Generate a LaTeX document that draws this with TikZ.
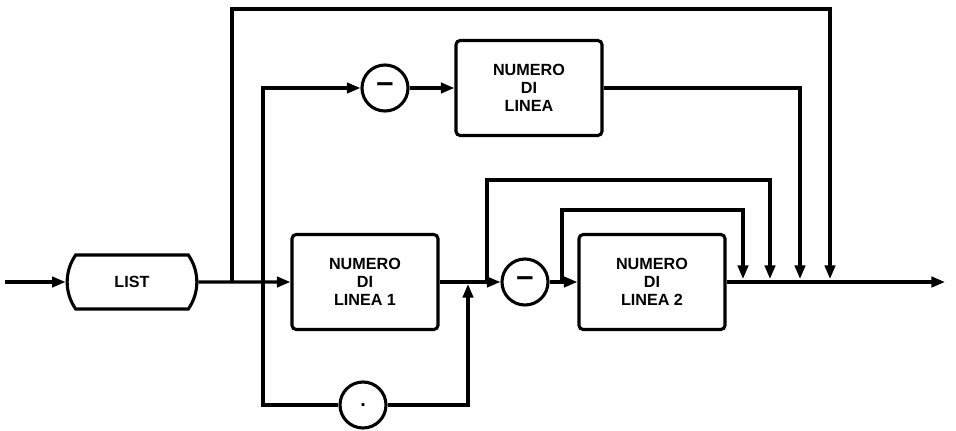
\documentclass[tikz,border=0pt]{standalone}
\usepackage{fontspec}
\setmainfont{Liberation Sans}
\usepackage{tikz}
\usetikzlibrary{arrows.meta,positioning,shapes.misc}

\newcommand\minussign{\raisebox{-0.08em}{\fontsize{22}{22}\selectfont\bfseries\textendash}}

\begin{document}
\begin{tikzpicture}[x=0.025cm,y=-0.025cm,line width=2.2pt,
  >={Triangle[length=0.34cm,width=0.26cm]},
  box/.style={draw,rounded corners=3pt,minimum width=3.65cm,minimum height=2.375cm,
    align=center,inner sep=0pt,font=\fontsize{11.5}{13}\selectfont\bfseries},
  roundel/.style={draw,circle,minimum size=1.15cm,inner sep=0pt},
  listbox/.style={draw,rounded rectangle,rounded rectangle arc length=70,
    minimum width=3.475cm,minimum height=1.35cm,font=\fontsize{11.5}{13}\selectfont\bfseries}]
  \useasboundingbox (0,0) rectangle (956,430);
  % boxes and circles
  \node[listbox] (list) at (132,282) {LIST};
  \node[roundel] (minusA) at (385,88) {\minussign};
  \node[box] (nlinea) at (529,88) {NUMERO\\DI\\LINEA};
  \node[box] (nl1) at (365,282) {NUMERO\\DI\\LINEA 1};
  \node[roundel] (dot) at (363,405) {\fontsize{14}{14}\selectfont\bfseries .};
  \node[roundel] (minusB) at (525,282) {\minussign};
  \node[box] (nl2) at (652,282) {NUMERO\\DI\\LINEA 2};
  % junctions on the main line
  \coordinate (start) at (5,282);
  \coordinate (stop) at (945,282);
  \coordinate (jA) at (232,282);
  \coordinate (jB) at (263,282);
  \coordinate (jC) at (468,284);
  \coordinate (jD) at (487,282);
  \coordinate (jE) at (562,282);
  \coordinate (m1) at (743,279);
  \coordinate (m2) at (770,279);
  \coordinate (m3) at (800,279);
  \coordinate (m4) at (830,279);
  \coordinate (hiA) at (0,9);
  \coordinate (hiD) at (0,180);
  \coordinate (hiE) at (0,210);
  % main line
  \draw[->] (start) -- (list);
  \draw[->] (list) -- (nl1);
  \draw[->] (nl1) -- (minusB);
  \draw[->] (minusB) -- (nl2);
  \draw[->] (nl2) -- (stop);
  % upper and lower paths
  \draw[->] (dot) -| (jB) |- (minusA);
  \draw[->] (minusA) -- (nlinea);
  \draw[->] (nlinea) -| (m3);
  \draw[->] (dot) -| (jC);
  % bypass loops
  \draw[->] (jA) -- (jA |- hiA) -| (m4);
  \draw[->] (jD) -- (jD |- hiD) -| (m2);
  \draw[->] (jE) -- (jE |- hiE) -| (m1);
\end{tikzpicture}
\end{document}
